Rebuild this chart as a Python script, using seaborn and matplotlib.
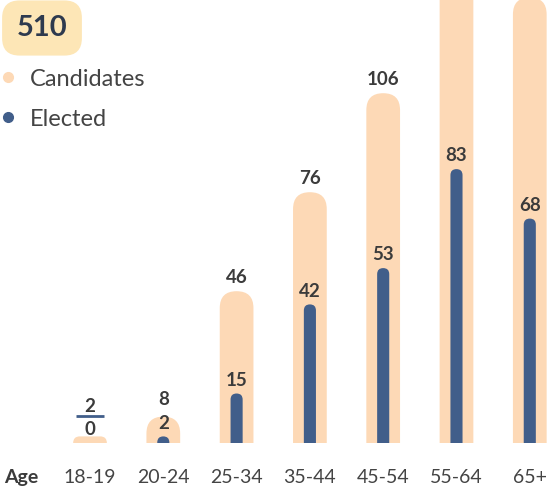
import matplotlib
matplotlib.use("Agg")
import matplotlib.pyplot as plt
from matplotlib.patches import FancyBboxPatch
from matplotlib.lines import Line2D
import pandas as pd
import seaborn as sns

ages = ["18-19", "20-24", "25-34", "35-44", "45-54", "55-64", "65+"]
candidates = [2, 8, 46, 76, 106, 160, 135]
elected = [0, 2, 15, 42, 53, 83, 68]
total_label = "510"

PEACH = "#FDD9B6"
BLUE = "#415E8A"
TXT = "#3b3b3b"

sns.set_theme(style="white")
plt.rcParams["font.family"] = ["Lato", "DejaVu Sans"]

df = pd.DataFrame({"age": ages, "candidates": candidates, "elected": elected})

W, H = 555, 486
base_px = 43  # baseline, pixels from bottom
fig = plt.figure(figsize=(W / 100, H / 100), dpi=100)
ax = fig.add_axes([0, base_px / H, 1, 1 - base_px / H])
xlim = (-1.228, 6.344)
ylim = (0, (H - base_px) / 3.3)

# y data units per x data unit at equal pixel length
aspect = (ylim[1] - ylim[0]) / (H - base_px) * W / (xlim[1] - xlim[0])


def round_bars(patches, color):
    for p in patches:
        x, w, h = p.get_x(), p.get_width(), p.get_height()
        p.remove()
        if h <= 0:
            continue
        r = min(w / 2, h / aspect)
        ax.add_patch(FancyBboxPatch((x, -r * aspect), w, h + r * aspect,
                                    boxstyle=f"round,pad=0,rounding_size={r}",
                                    mutation_aspect=aspect, fc=color, ec="none", zorder=2))


sns.barplot(data=df, x="age", y="candidates", color=PEACH, width=0.46, ax=ax)
round_bars(list(ax.patches), PEACH)
n0 = len(ax.patches)
sns.barplot(data=df, x="age", y="elected", color=BLUE, width=0.165, ax=ax)
round_bars(list(ax.patches)[n0:], BLUE)
ax.set_xlim(*xlim)
ax.set_ylim(*ylim)

for i, (c, e) in enumerate(zip(candidates, elected)):
    ax.annotate(str(e), (i, e), xytext=(0, 3.5), textcoords="offset points",
                ha="center", va="bottom", fontsize=13.5, fontweight="bold", color=TXT, zorder=3)
    cy = max(c, e + 7)
    ax.annotate(str(c), (i, cy), xytext=(0, 3.5), textcoords="offset points",
                ha="center", va="bottom", fontsize=13.5, fontweight="bold", color=TXT, zorder=3)
    if e == 0:
        ax.hlines(cy + 1.2, i - 0.19, i + 0.19, color=BLUE, lw=2, zorder=3)

ax.set_xlabel("")
ax.set_ylabel("")
ax.set_yticks([])
ax.tick_params(axis="x", length=0, pad=19, labelsize=14, labelcolor="#444444")
for s in ax.spines.values():
    s.set_visible(False)

fig.text(4 / W, 1 - 477 / H, "Age", ha="left", va="center",
         fontsize=14, fontweight="bold", color=TXT)

fig.text(42 / W, 1 - 28 / H, total_label, ha="center", va="center",
         fontsize=21, fontweight="bold", color="#2e3a4e",
         bbox=dict(boxstyle="round,pad=0.5,rounding_size=0.6", fc="#FDE6B6", ec="none"))

handles = [Line2D([], [], ls="", marker="o", ms=7, color=PEACH, label="Candidates"),
           Line2D([], [], ls="", marker="o", ms=7, color=BLUE, label="Elected")]
ax.legend(handles=handles, loc="upper left", bbox_to_anchor=(-0.046, 0.893), frameon=False,
          fontsize=17, labelcolor="#444444", handletextpad=0.45, labelspacing=0.8,
          handlelength=1.0)

fig.savefig("out.png", dpi=100)
